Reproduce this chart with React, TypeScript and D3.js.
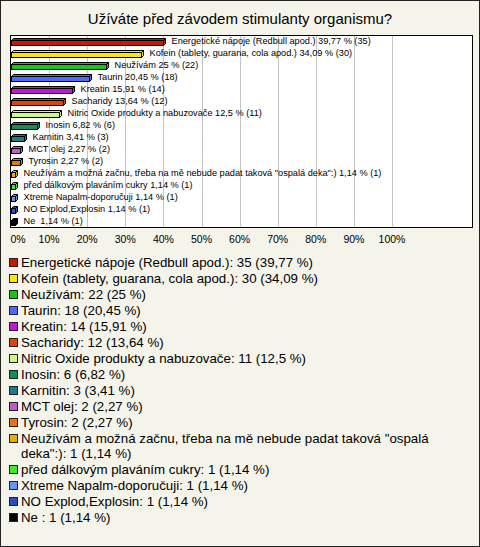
import React from "react";
import * as d3 from "d3";

const TITLE = "Užíváte před závodem stimulanty organismu?";
const categories = [
  "Energetické nápoje (Redbull apod.)",
  "Kofein (tablety, guarana, cola apod.)",
  "Neužívám",
  "Taurin",
  "Kreatin",
  "Sacharidy",
  "Nitric Oxide produkty a nabuzovače",
  "Inosin",
  "Karnitin",
  "MCT olej",
  "Tyrosin",
  "Neužívám a možná začnu, třeba na mě nebude padat taková \"ospalá deka\":)",
  "před dálkovým plaváním cukry",
  "Xtreme Napalm-doporučuji",
  "NO Explod,Explosin",
  "Ne ",
];
const counts = [35, 30, 22, 18, 14, 12, 11, 6, 3, 2, 2, 1, 1, 1, 1, 1];
const percents = [39.77, 34.09, 25, 20.45, 15.91, 13.64, 12.5, 6.82, 3.41, 2.27, 2.27, 1.14, 1.14, 1.14, 1.14, 1.14];
const colors = [
  "#c81800", "#ffe600", "#16c616", "#4a6cf6", "#c416d8", "#e4400e",
  "#ccf888", "#128c5a", "#1e7890", "#c05cc4", "#e87412", "#e6b000",
  "#44e82c", "#6c94e6", "#2c4cbc", "#000000",
];
const xTicks = [0, 10, 20, 30, 40, 50, 60, 70, 80, 90, 100];

const W = 480, H = 547;
const FONT = "Arial, 'Liberation Sans', sans-serif";
const fmt = (v: number) => String(v).replace(".", ",");

function wrapText(text: string, maxW: number, font: string): string[] {
  const c = document.createElement("canvas").getContext("2d")!;
  c.font = font;
  const words = text.split(" ");
  const lines: string[] = [];
  let cur = "";
  for (const w of words) {
    const t = cur ? cur + " " + w : w;
    if (c.measureText(t).width > maxW && cur) {
      lines.push(cur);
      cur = w;
    } else cur = t;
  }
  if (cur) lines.push(cur);
  return lines;
}

export default function App() {
  const plot = { x: 10, y: 35, w: 462, h: 192 };
  const x = d3.scaleLinear().domain([0, 100]).range([11, 392]);
  const y = d3.scaleBand().domain(categories).range([plot.y, plot.y + plot.h]).padding(0);
  const bh = 5, dp = 2;

  const LFS = 13.3;
  const legendFont = `${LFS}px ${FONT}`;
  let lineIdx = 0;
  const legendItems = categories.map((c, i) => {
    const lines = wrapText(`${c}: ${counts[i]} (${fmt(percents[i])} %)`, 440, legendFont);
    const base = 267 + i * 16 + (lineIdx - i) * 15;
    lineIdx += lines.length;
    return { lines, base, color: colors[i] };
  });

  return (
    <div style={{ position: "absolute", left: 0, top: 0 }}>
      <svg width={W} height={H} style={{ display: "block" }} fontFamily={FONT}>
        <rect x={0.5} y={0.5} width={W - 1} height={H - 1} fill="#f5f4eb" stroke="#222" />
        <text x={W / 2} y={24} textAnchor="middle" fontSize={15} fill="#000">{TITLE}</text>
        <rect x={plot.x + 0.5} y={plot.y + 0.5} width={plot.w} height={plot.h} fill="#fff" stroke="#000" />
        {xTicks.filter((t) => t > 0).map((t) => (
          <line key={t} x1={Math.round(x(t)) + 0.5} x2={Math.round(x(t)) + 0.5} y1={plot.y + 1} y2={plot.y + plot.h}
            stroke="#c4c4c4" />
        ))}
        {categories.map((c, i) => {
          const cy = y(c)! + y.bandwidth() / 2;
          const x0 = x(0) + 0.5;
          const x1 = Math.round(x(percents[i])) + 0.5;
          const yt = Math.round(cy - 1) + 0.5;
          return (
            <g key={c}>
              <polygon points={`${x0},${yt} ${x0 + dp},${yt - dp} ${x1 + dp},${yt - dp} ${x1},${yt}`}
                fill={colors[i]} stroke="#000" strokeWidth={1} />
              <polygon points={`${x1},${yt} ${x1 + dp},${yt - dp} ${x1 + dp},${yt + bh - dp} ${x1},${yt + bh}`}
                fill={colors[i]} stroke="#000" strokeWidth={1} />
              <rect x={x0} y={yt} width={x1 - x0} height={bh} fill={colors[i]} stroke="#000" strokeWidth={1} />
              <text x={x1 + dp + 6} y={cy + 3} fontSize={9.2} fill="#000" style={{ whiteSpace: "pre" }}>
                {`${c} ${fmt(percents[i])} % (${counts[i]})`}
              </text>
            </g>
          );
        })}
        {xTicks.map((t) => (
          <text key={t} x={t === 0 ? x(t) + 7 : x(t)} y={243} textAnchor="middle" fontSize={10.5} fill="#000">
            {`${t}%`}
          </text>
        ))}
        {legendItems.map((it, i) => (
          <g key={i}>
            <rect x={9.5} y={it.base - 8.5} width={8} height={8} fill={it.color} stroke="#222" />
            {it.lines.map((l, j) => (
              <text key={j} x={21} y={it.base + j * 15} fontSize={LFS} fill="#000" style={{ whiteSpace: "pre" }}>{l}</text>
            ))}
          </g>
        ))}
      </svg>
    </div>
  );
}
